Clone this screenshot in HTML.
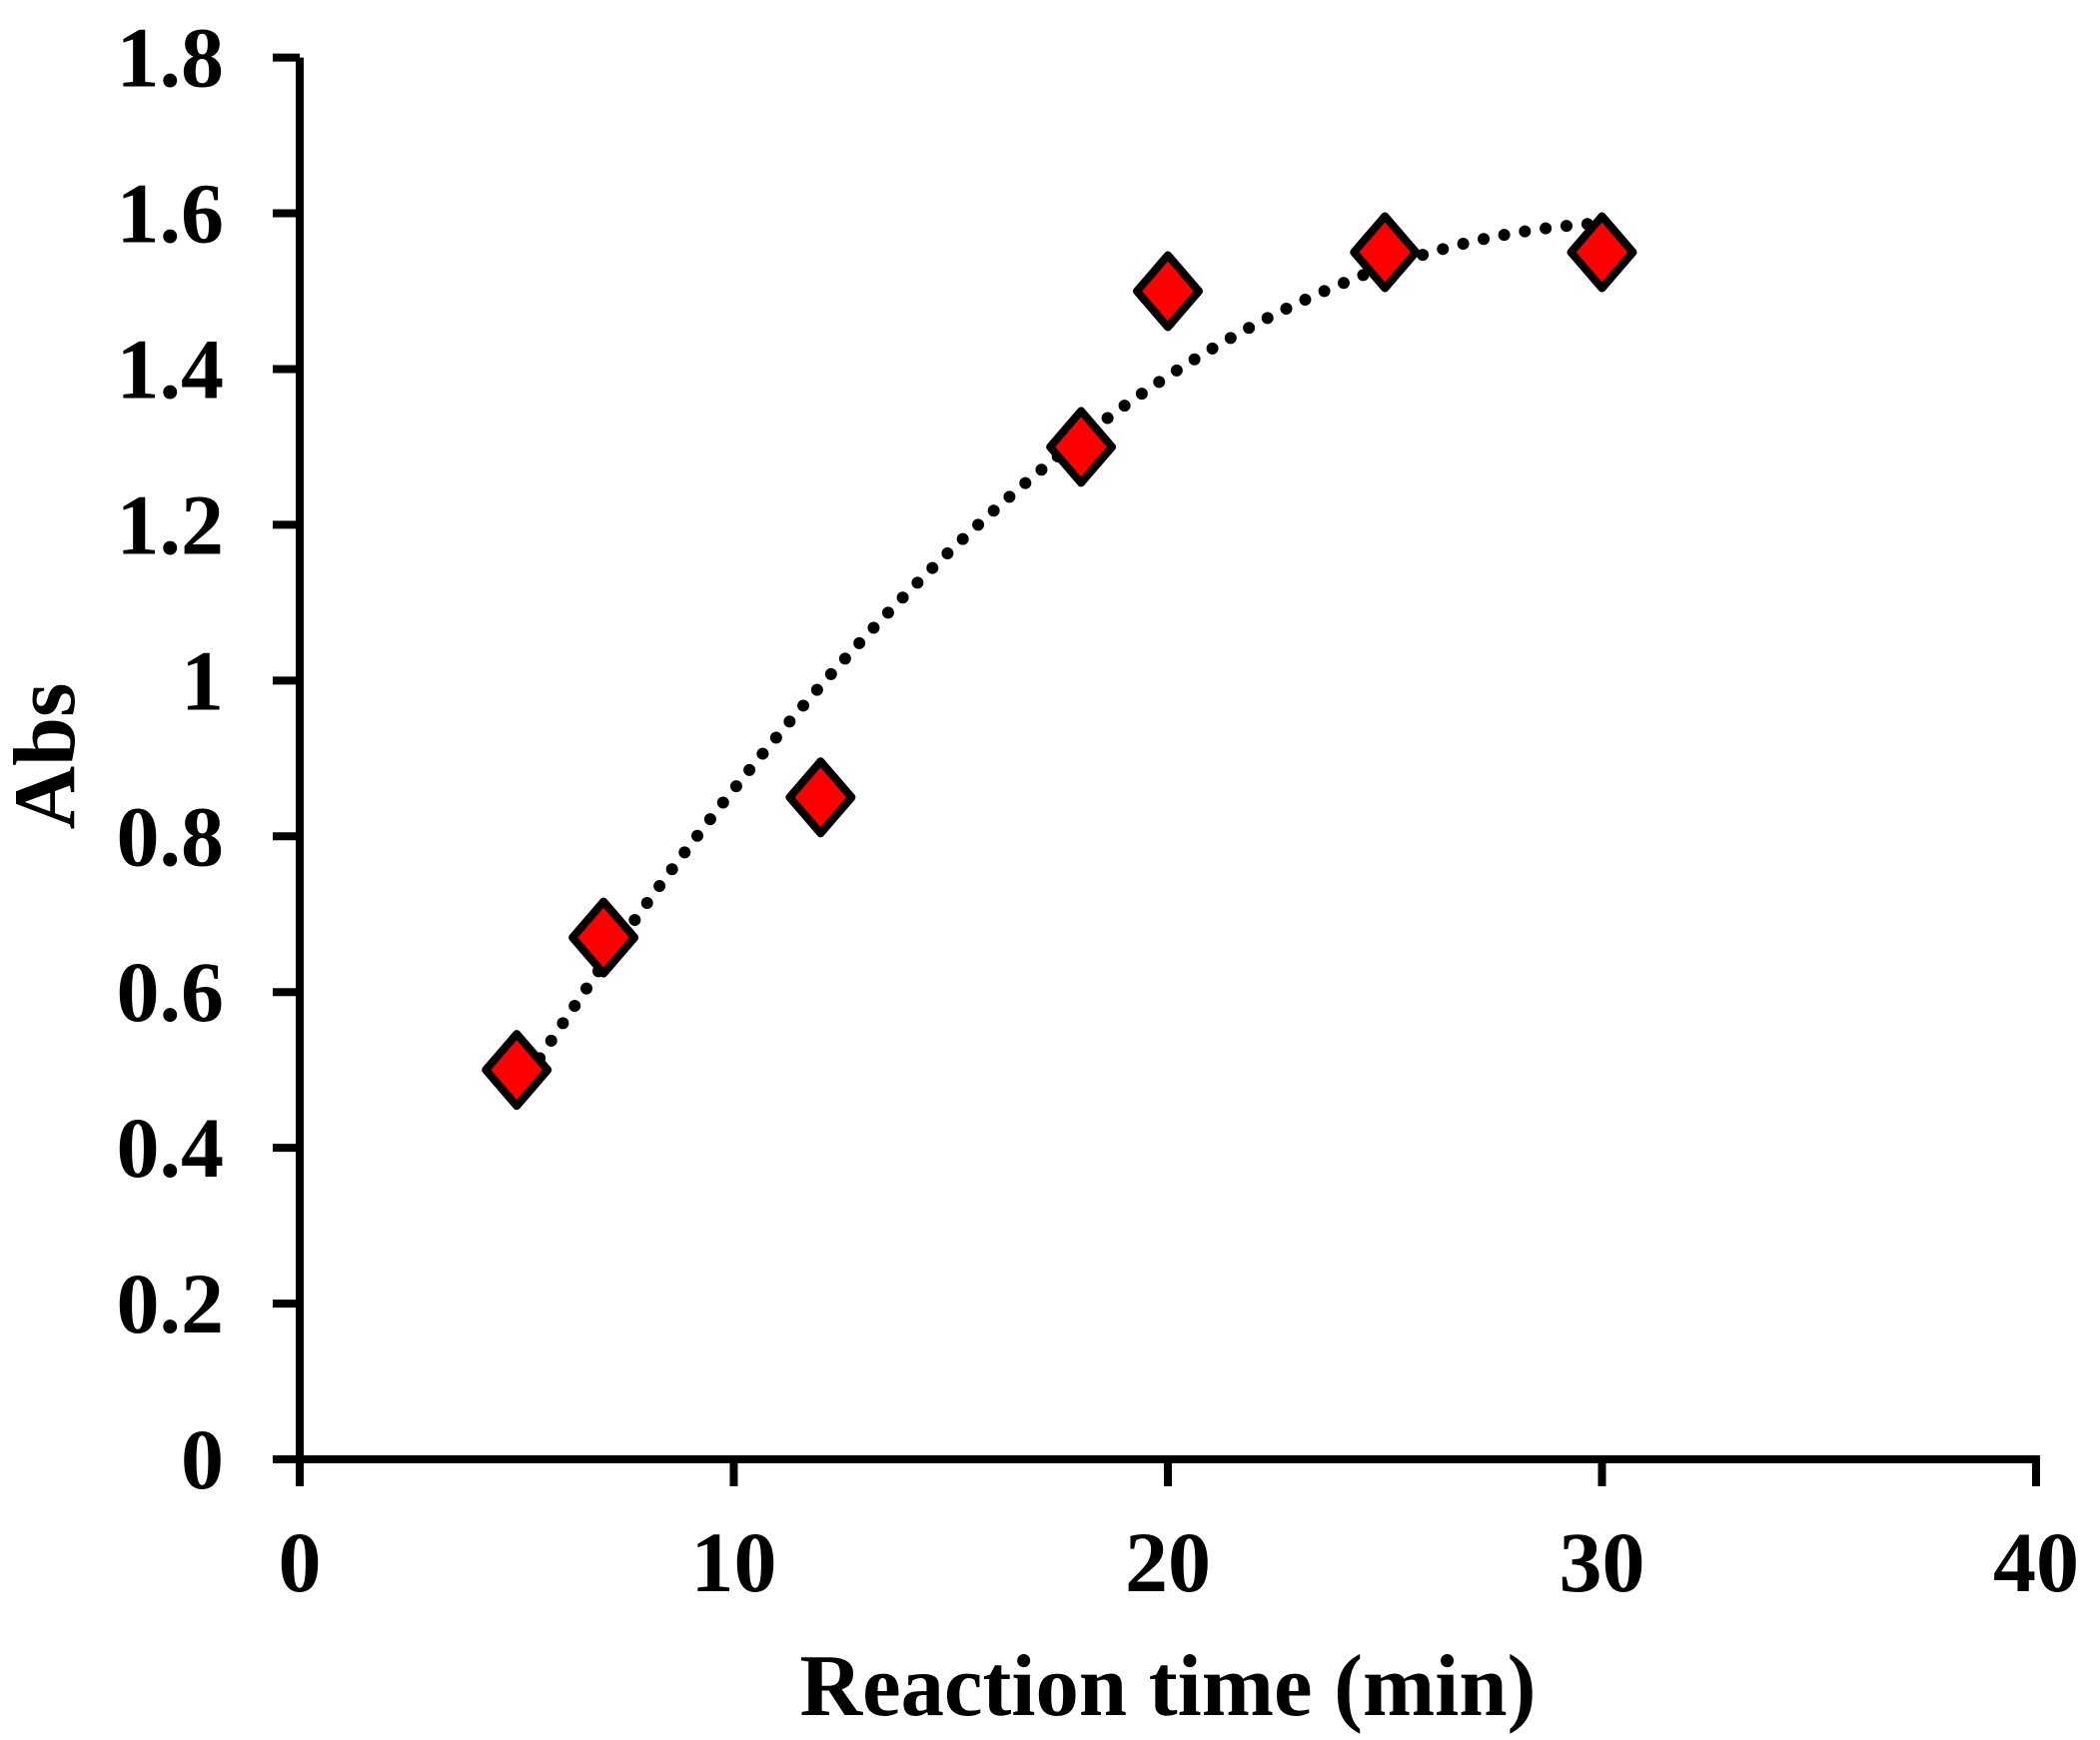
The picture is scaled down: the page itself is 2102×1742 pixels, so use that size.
<!DOCTYPE html>
<html><head><meta charset="utf-8"><style>
html,body{margin:0;padding:0;background:#fff;}
svg{display:block;}
text{font-family:"Liberation Serif",serif;font-weight:bold;fill:#000;}
</style></head><body>
<svg id="chart" width="2102" height="1742" viewBox="0 0 2102 1742" xmlns="http://www.w3.org/2000/svg">
</svg>
<script>
const xTicks = [0, 10, 20, 30, 40];
const yTicks = [0, 0.2, 0.4, 0.6, 0.8, 1, 1.2, 1.4, 1.6, 1.8];
const yTickLabels = ["0", "0.2", "0.4", "0.6", "0.8", "1", "1.2", "1.4", "1.6", "1.8"];
const timeValues = [5, 7, 12, 18, 20, 25, 30];
const absValues = [0.5, 0.67, 0.85, 1.3, 1.5, 1.55, 1.55];

const X0 = 300, X1 = 2038, Y0 = 1461, Y1 = 57.6;
function sx(v){ return X0 + (v - 0) / 40 * (X1 - X0); }
function sy(v){ return Y0 - (v - 0) / 1.8 * (Y0 - Y1); }

const svg = document.getElementById('chart');
const NS = 'http://www.w3.org/2000/svg';
function mk(tag, attrs){ const e = document.createElementNS(NS, tag); for (const k in attrs) e.setAttribute(k, attrs[k]); svg.appendChild(e); return e; }

let ax = mk('line', {x1: X0, y1: Y1, x2: X0, y2: Y0, stroke: '#000', 'stroke-width': 8});


ax = mk('line', {x1: X0 - 27, y1: Y0, x2: X1 + 4, y2: Y0, stroke: '#000', 'stroke-width': 8});



yTicks.forEach((v, i) => {
  const t = mk('line', {x1: X0 - 27, y1: sy(v), x2: X0, y2: sy(v), stroke: '#000', 'stroke-width': 8});
  
  
  const l = mk('text', {x: 224, y: sy(v) + 29, 'text-anchor': 'end', 'font-size': 86});
  l.textContent = yTickLabels[i];
  
  
});
xTicks.forEach(v => {
  const t = mk('line', {x1: sx(v), y1: Y0, x2: sx(v), y2: Y0 + 27, stroke: '#000', 'stroke-width': 8});
  
  
  const l = mk('text', {x: sx(v), y: 1593, 'text-anchor': 'middle', 'font-size': 86});
  l.textContent = String(v);
  
  
});

let tt = mk('text', {x: 1169, y: 1717, 'text-anchor': 'middle', 'font-size': 88, textLength: 737, lengthAdjust: 'spacingAndGlyphs'});
tt.textContent = 'Reaction time (min)';


tt = mk('text', {x: 0, y: 0, 'text-anchor': 'middle', 'font-size': 88, transform: 'translate(74,757) rotate(-90)'});
tt.textContent = 'Abs';



function polyfit2(xs, ys){
  let n = xs.length, S = [0,0,0,0,0], T = [0,0,0];
  for (let i = 0; i < n; i++){ let p = 1; for (let k = 0; k < 5; k++){ S[k] += p; if (k < 3) T[k] += p * ys[i]; p *= xs[i]; } }
  const A = [[S[0],S[1],S[2],T[0]],[S[1],S[2],S[3],T[1]],[S[2],S[3],S[4],T[2]]];
  for (let c = 0; c < 3; c++){ for (let r = c+1; r < 3; r++){ const f = A[r][c]/A[c][c]; for (let k = c; k < 4; k++) A[r][k] -= f*A[c][k]; } }
  const x = [0,0,0];
  for (let r = 2; r >= 0; r--){ let s = A[r][3]; for (let k = r+1; k < 3; k++) s -= A[r][k]*x[k]; x[r] = s/A[r][r]; }
  return x;
}
const coef = polyfit2(timeValues, absValues);
let d = '';
const xa = Math.min(...timeValues), xb = Math.max(...timeValues);
for (let i = 0; i <= 100; i++){
  const xv = xa + (xb - xa) * i / 100;
  const yv = coef[0] + coef[1]*xv + coef[2]*xv*xv;
  d += (i ? 'L' : 'M') + sx(xv).toFixed(1) + ',' + sy(yv).toFixed(1);
}
const trend = mk('path', {d: d, fill: 'none', stroke: '#000', 'stroke-width': 12, 'stroke-linecap': 'round', 'stroke-dasharray': '0 21'});



timeValues.forEach((t, i) => {
  const cx = sx(t), cy = sy(absValues[i]);
  const m = mk('polygon', {points: `${cx},${cy-36} ${cx+31},${cy} ${cx},${cy+36} ${cx-31},${cy}`, fill: '#ff0000', stroke: '#000', 'stroke-width': 8, 'stroke-linejoin': 'round'});
  
  
});
</script>
</body></html>
